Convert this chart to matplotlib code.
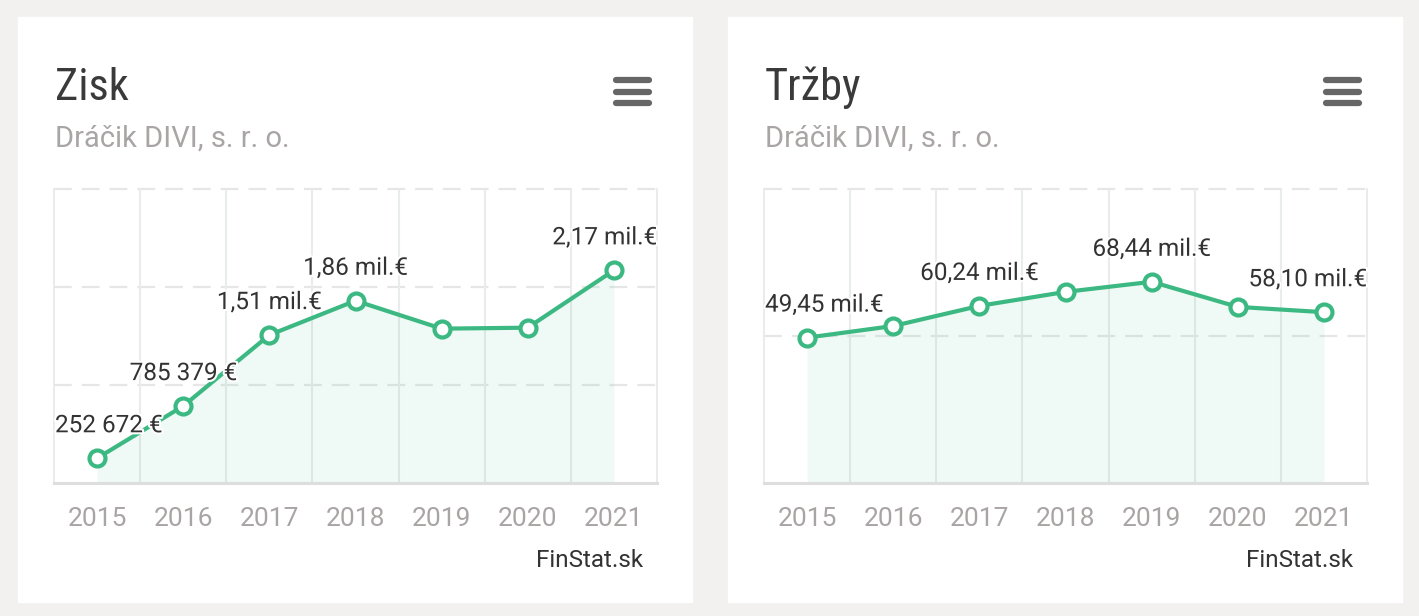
import matplotlib
matplotlib.use('Agg')
import matplotlib.pyplot as plt
from matplotlib import patheffects
from matplotlib.lines import Line2D
from matplotlib.patches import Rectangle

# data ########################################################################
years = ['2015', '2016', '2017', '2018', '2019', '2020', '2021']
company = 'Dráčik DIVI, s. r. o.'

zisk = [252672, 785379, 1510000, 1860000, 1575000, 1585000, 2170000]
zisk_labeled = ['2015', '2016', '2017', '2018', '2021']
zisk_grid = [1e6, 2e6, 3e6]

trzby = [49450000, 53400000, 60240000, 65000000, 68440000, 59900000, 58100000]
trzby_labeled = ['2015', '2017', '2019', '2021']
trzby_grid = [50e6, 100e6]

# style #######################################################################
W, H = 1419, 616
GREEN = '#3cb983'
GRID = '#e6e6e6'
GRAY = '#aaa5a5'
DARK = '#333333'
FONT = ['Roboto Condensed', 'Roboto', 'DejaVu Sans']
plt.rcParams['font.family'] = FONT


def eur(v):
    if v < 1e6:
        return f'{v:,.0f}'.replace(',', ' ') + ' €'
    return f'{v / 1e6:.2f}'.replace('.', ',') + ' mil.€'


def fx(x):
    return x / W


def fy(y):
    return 1 - y / H


fig = plt.figure(figsize=(W / 100, H / 100), dpi=100, facecolor='#f2f1ef')


def panel(cx, title, values, labeled, grid):
    # card + header
    fig.add_artist(Rectangle((fx(cx), fy(602)), fx(674), 585 / H,
                             transform=fig.transFigure, color='white', zorder=0))
    fig.text(fx(cx + 37), fy(100), title, fontsize=32, color='#3a3a3a',
             va='baseline', ha='left')
    fig.text(fx(cx + 37), fy(147), company, fontsize=21, color=GRAY,
             va='baseline', ha='left', family='Roboto')
    for yy in (80, 92, 103):
        fig.add_artist(Line2D([fx(cx + 598), fx(cx + 631)], [fy(yy), fy(yy)],
                              transform=fig.transFigure, color='#666666',
                              lw=4.5, solid_capstyle='round'))
    fig.text(fx(cx + 625), fy(567), 'FinStat.sk', fontsize=17.5, color=DARK,
             va='baseline', ha='right', family='Roboto')

    # plot area
    ax = fig.add_axes([fx(cx + 36), fy(483), fx(603), 294 / H])
    ax.set_facecolor('none')
    x = list(range(len(years)))
    ax.set_xlim(-0.5, len(years) - 0.5)
    ax.set_ylim(0, grid[-1])

    for g in grid:
        ax.axhline(g, color=GRID, lw=1.6, ls=(0, (8, 4.5)), clip_on=False, zorder=0)
    for i in range(len(years) - 1):
        ax.axvline(i + 0.5, color='#e8ecea', lw=1.5, zorder=0)

    ax.fill_between(x, values, 0, color=GREEN, alpha=0.08, lw=0, zorder=1)
    ax.plot(x, values, color=GREEN, lw=3, zorder=2, solid_capstyle='round')
    ax.plot(x, values, ls='none', marker='o', ms=11.5, mfc='white', mec=GREEN,
            mew=3, zorder=3)

    ax.spines['top'].set_visible(False)
    for s in ('left', 'right'):
        ax.spines[s].set_color('#e8e8e8')
        ax.spines[s].set_linewidth(1.2)
    ax.spines['bottom'].set_color('#dedede')
    ax.spines['bottom'].set_linewidth(2.2)

    ax.set_yticks([])
    ax.set_xticks(x)
    ax.set_xticklabels(years, fontsize=19, color=GRAY, family='Roboto')
    ax.tick_params(axis='x', length=0, pad=17)

    anns = []
    for i, yr in enumerate(years):
        if yr not in labeled:
            continue
        a = ax.annotate(eur(values[i]), (i, values[i]), xytext=(0, 18.7),
                        textcoords='offset points', ha='center', va='baseline',
                        fontsize=17.5, color=DARK, family='Roboto', zorder=4,
                        path_effects=[patheffects.withStroke(linewidth=3,
                                                             foreground='white')])
        anns.append(a)
    return ax, anns


panels = [panel(18, 'Zisk', zisk, zisk_labeled, zisk_grid),
          panel(728, 'Tržby', trzby, trzby_labeled, trzby_grid)]

# keep data labels inside the plot area
fig.canvas.draw()
r = fig.canvas.get_renderer()
for ax, anns in panels:
    ab = ax.get_window_extent(r)
    for a in anns:
        tb = a.get_window_extent(r)
        dx = 0
        if tb.x0 < ab.x0 + 1:
            dx = ab.x0 + 1 - tb.x0
        elif tb.x1 > ab.x1:
            dx = ab.x1 - tb.x1
        if dx:
            a.xyann = (a.xyann[0] + dx * 72 / fig.dpi, a.xyann[1])

fig.savefig('out.png', dpi=100, facecolor=fig.get_facecolor())
